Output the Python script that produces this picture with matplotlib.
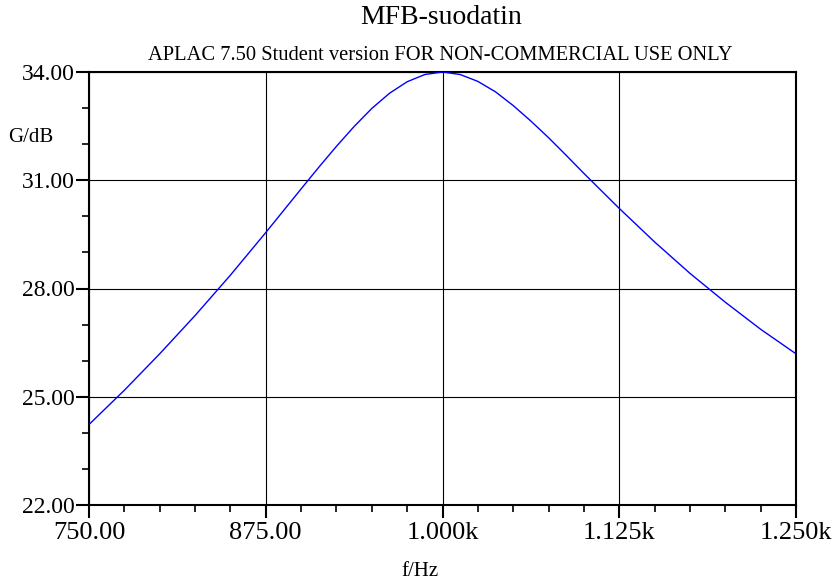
import matplotlib
matplotlib.use("Agg")
import matplotlib.pyplot as plt
from matplotlib.ticker import MultipleLocator, FixedLocator

# Data (gain curve of the MFB band-pass filter)
freq_hz = [750, 775, 800, 825, 850, 875, 900, 912.5, 925, 937.5, 950, 962.5, 975,
           987.5, 1000, 1012.5, 1025, 1037.5, 1050, 1062.5, 1075, 1087.5, 1100,
           1125, 1150, 1175, 1200, 1225, 1250]
gain_db = [24.23, 25.18, 26.19, 27.25, 28.37, 29.55, 30.76, 31.36, 31.94, 32.49,
           32.99, 33.41, 33.73, 33.93, 34.00, 33.93, 33.74, 33.45, 33.07, 32.64,
           32.18, 31.69, 31.19, 30.22, 29.29, 28.42, 27.62, 26.87, 26.19]

x_ticks = [750, 875, 1000, 1125, 1250]
x_tick_labels = ["750.00", "875.00", "1.000k", "1.125k", "1.250k"]
y_ticks = [22, 25, 28, 31, 34]
y_tick_labels = ["22.00", "25.00", "28.00", "31.00", "34.00"]

title = "MFB-suodatin"
subtitle = "APLAC 7.50 Student version FOR NON-COMMERCIAL USE ONLY"
xlabel = "f/Hz"
ylabel = "G/dB"

plt.rcParams['font.family'] = ['Liberation Serif', 'DejaVu Serif']

W, H = 837, 585
fig = plt.figure(figsize=(W / 100, H / 100), dpi=100)
L, R, T, B = 89, 796, 72, 505
ax = fig.add_axes([L / W, 1 - B / H, (R - L) / W, (B - T) / H])

ax.plot(freq_hz, gain_db, color=(0, 0, 1), lw=1.0, zorder=3)

ax.set_xlim(750, 1250)
ax.set_ylim(22, 34)
ax.xaxis.set_major_locator(FixedLocator(x_ticks))
ax.set_xticklabels(x_tick_labels)
ax.yaxis.set_major_locator(FixedLocator(y_ticks))
ax.set_yticklabels(y_tick_labels)
ax.xaxis.set_minor_locator(MultipleLocator(25))
ax.yaxis.set_minor_locator(MultipleLocator(1))

ax.grid(True, which='major', color='black', lw=0.8, zorder=1)
for s in ax.spines.values():
    s.set_linewidth(1.5)
    s.set_color('black')

ax.tick_params(which='major', direction='out', length=9.5, width=1.5, color='black')
ax.tick_params(which='minor', direction='out', length=5, width=1.2, color='black')
ax.tick_params(axis='x', which='major', labelsize=19, pad=3)
ax.tick_params(axis='y', which='major', labelsize=17, pad=1)

fig.text(441 / W, 1 - 18 / H, title, ha='center', va='center', fontsize=20)
fig.text(440 / W, 1 - 56 / H, subtitle, ha='center', va='center', fontsize=14.8)
fig.text(31 / W, 1 - 137 / H, ylabel, ha='center', va='center', fontsize=15)
fig.text(420 / W, 1 - 572 / H, xlabel, ha='center', va='center', fontsize=15)

fig.savefig("out.png", dpi=100)
